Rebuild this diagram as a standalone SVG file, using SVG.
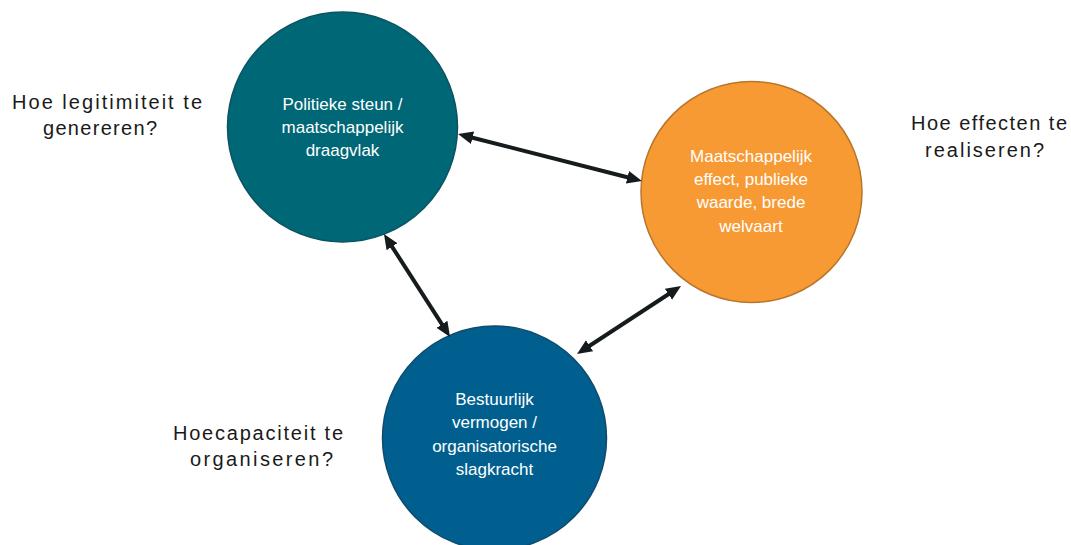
<svg xmlns="http://www.w3.org/2000/svg" width="1071" height="545" viewBox="0 0 1071 545">
<style>
.node-text{font-family:"Liberation Sans","Open Sans",Arial,sans-serif;font-size:17px;fill:#ffffff;text-anchor:middle}
.q{font-family:"Liberation Sans","Open Sans",Arial,sans-serif;font-size:20px;fill:#1a1a1a}
.conn{stroke:#161b1d;stroke-width:4;fill:none;marker-start:url(#ah);marker-end:url(#ah)}
</style>
<defs>
<marker id="ah" markerUnits="userSpaceOnUse" markerWidth="16" markerHeight="14" viewBox="0 0 16 14" refX="4" refY="7" orient="auto-start-reverse">
<path d="M0,0.5 L15,7 L0,13.5 z" fill="#161b1d"/>
</marker>
</defs>
<rect width="1071" height="545" fill="#ffffff"/>
<g id="node-legitimiteit">
<circle cx="342.5" cy="127" r="115" fill="#006776" stroke="#0c5360" stroke-width="1.5"/>
<text class="node-text" x="342.5" y="110">Politieke steun /</text>
<text class="node-text" x="342.5" y="133">maatschappelijk</text>
<text class="node-text" x="342.5" y="156">draagvlak</text>
</g>
<g id="node-effect">
<circle cx="751.5" cy="192" r="110.5" fill="#f79a34" stroke="#b8752c" stroke-width="1.5"/>
<text class="node-text" x="751" y="162">Maatschappelijk</text>
<text class="node-text" x="751" y="185">effect, publieke</text>
<text class="node-text" x="751" y="208">waarde, brede</text>
<text class="node-text" x="751" y="232">welvaart</text>
</g>
<g id="node-capaciteit">
<circle cx="494.5" cy="438" r="112" fill="#005f8f" stroke="#0f4b6b" stroke-width="1.5"/>
<text class="node-text" x="494.5" y="405">Bestuurlijk</text>
<text class="node-text" x="494.5" y="428">vermogen /</text>
<text class="node-text" x="494.5" y="452">organisatorische</text>
<text class="node-text" x="494.5" y="475">slagkracht</text>
</g>
<g id="labels">
<text class="q" x="12" y="109" textLength="190" lengthAdjust="spacing">Hoe legitimiteit te</text>
<text class="q" x="43" y="135" textLength="114" lengthAdjust="spacing">genereren?</text>
<text class="q" x="911" y="130" textLength="156" lengthAdjust="spacing">Hoe effecten te</text>
<text class="q" x="925" y="157" textLength="119" lengthAdjust="spacing">realiseren?</text>
<text class="q" x="173" y="440" textLength="170" lengthAdjust="spacing">Hoecapaciteit te</text>
<text class="q" x="190" y="466" textLength="143" lengthAdjust="spacing">organiseren?</text>
</g>
<g id="connectors">
<line class="conn" x1="468.7" y1="136.7" x2="631.3" y2="178.3"/>
<line class="conn" x1="389.9" y1="243.3" x2="444.1" y2="327.7"/>
<line class="conn" x1="586.2" y1="348.0" x2="671.8" y2="292.0"/>
</g>
</svg>
